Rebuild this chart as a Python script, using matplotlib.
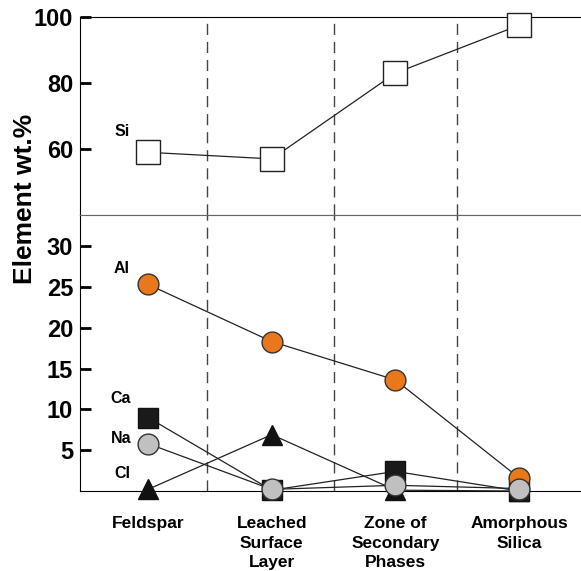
import matplotlib.pyplot as plt
import numpy as np

plt.rcParams['font.family'] = ['Liberation Sans', 'DejaVu Sans']
plt.rcParams['font.weight'] = 'bold'

categories = ['Feldspar', 'Leached\nSurface\nLayer', 'Zone of\nSecondary\nPhases', 'Amorphous\nSilica']
si = [59, 57, 83, 97.5]
al = [25.3, 18.3, 13.6, 1.6]
ca = [9.0, 0.1, 2.4, 0.0]
na = [5.8, 0.2, 0.7, 0.3]
cl = [0.2, 6.9, 0.1, 0.0]

x = np.arange(len(categories))

fig = plt.figure(figsize=(5.81, 5.71), dpi=100)
ax1 = fig.add_axes([80 / 581, 1 - 215 / 571, 1 - 80 / 581, 198 / 571])
ax2 = fig.add_axes([80 / 581, 1 - 491 / 571, 1 - 80 / 581, 276 / 571])

for ax in (ax1, ax2):
    ax.set_xlim(-0.55, 3.5)
    ax.spines['right'].set_visible(False)
    for xv in [0.48, 1.5, 2.5]:
        ax.axvline(xv, color='#444444', lw=1, ls=(0, (8, 5)), zorder=1)
    ax.tick_params(axis='y', direction='in', length=8, width=2, labelsize=17, pad=5)
    ax.tick_params(axis='x', length=0)

lw = 0.9
ax1.plot(x, si, color='#222222', lw=lw, marker='s', ms=17, mfc='white', mec='#222222', mew=1,
         zorder=3, clip_on=False)
ax1.set_ylim(40, 100)
ax1.set_yticks([60, 80, 100])
ax1.set_xticks([])
ax1.spines['bottom'].set_color('#666666')
ax1.text(-0.21, 65.2, 'Si', fontsize=11.5, fontweight='bold', ha='center', va='center')

ax2.plot(x, cl, color='#222222', lw=lw, marker='^', ms=14, mfc='#111111', mec='#111111',
         zorder=3, clip_on=False)
ax2.plot(x, ca, color='#222222', lw=lw, marker='s', ms=14, mfc='#1a1a1a', mec='#111111',
         zorder=4, clip_on=False)
ax2.plot(x, al, color='#222222', lw=lw, marker='o', ms=15, mfc='#e8781a', mec='#333333', mew=1,
         zorder=5, clip_on=False)
ax2.plot(x, na, color='#222222', lw=lw, marker='o', ms=15, mfc='#c0c0c0', mec='#333333', mew=1,
         zorder=6, clip_on=False)
ax2.set_ylim(0, 33.8)
ax2.set_yticks([5, 10, 15, 20, 25, 30])
ax2.set_xticks(x)
ax2.set_xticklabels(categories, fontsize=12.5, fontweight='bold', linespacing=1.38)
ax2.tick_params(axis='x', pad=18)
ax2.spines['top'].set_color('#666666')
for ax in (ax1, ax2):
    for lab in ax.get_yticklabels():
        lab.set_fontweight('bold')

ax2.text(-0.21, 27.3, 'Al', fontsize=11.5, fontweight='bold', ha='center', va='center')
ax2.text(-0.22, 11.3, 'Ca', fontsize=11.5, fontweight='bold', ha='center', va='center')
ax2.text(-0.22, 6.4, 'Na', fontsize=11.5, fontweight='bold', ha='center', va='center')
ax2.text(-0.21, 2.1, 'Cl', fontsize=11.5, fontweight='bold', ha='center', va='center')

fig.text(25 / 581, 1 - 199 / 571, 'Element wt.%', rotation=90, fontsize=19, fontweight='bold',
         ha='center', va='center')

fig.savefig('out.png', dpi=100)
